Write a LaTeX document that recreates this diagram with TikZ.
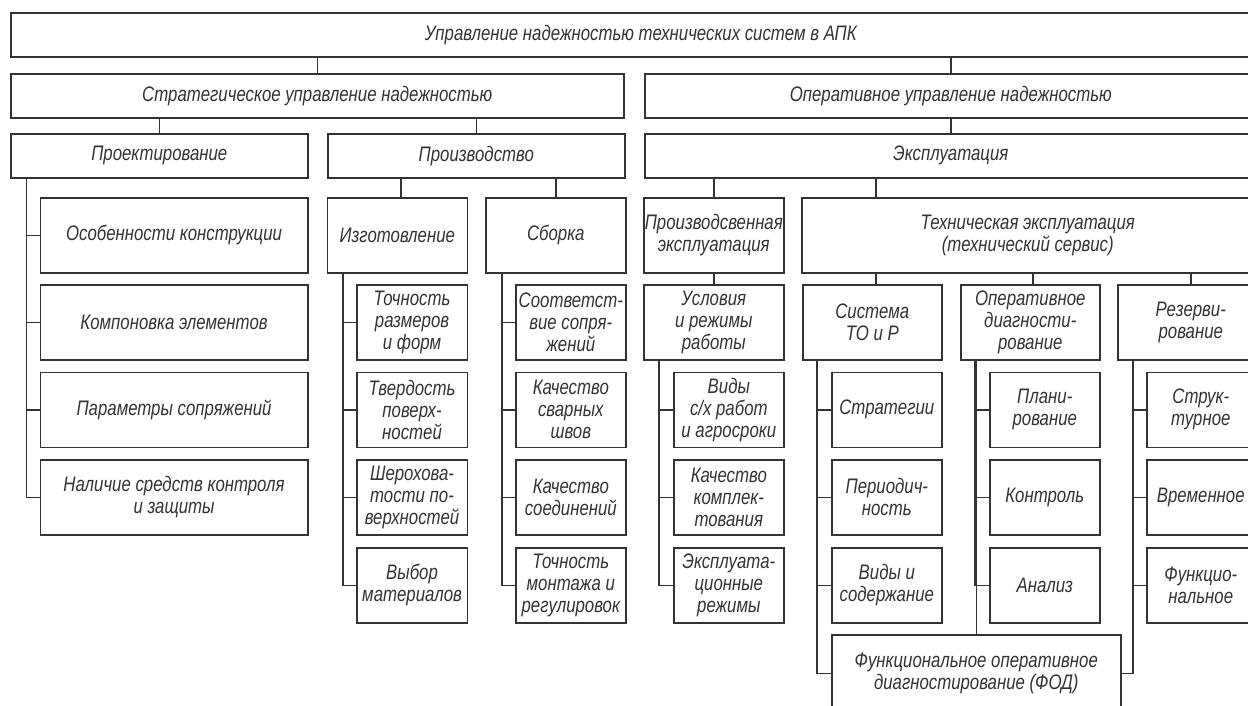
\documentclass[tikz,border=0pt]{standalone}
\usepackage{fontspec}
\newfontfamily\gost[FakeStretch=0.8]{Liberation Sans}
\usetikzlibrary{calc}
\definecolor{ink}{gray}{0.2}
\tikzset{
  box/.style={draw=ink, line width=1.6pt, align=center, inner sep=0pt, text=ink,
    font=\gost\itshape\fontsize{21}{22}\selectfont, anchor=north west},
  wire/.style={draw=ink, line width=1.6pt},
}
\newcommand\mybox[6]{\node[box, minimum width={(#4)-(#2)}, minimum height={(#5)-(#3)}] (#1) at (#2,#3) {#6};}
\begin{document}
\begin{tikzpicture}[x=1pt,y=-1pt]
\useasboundingbox (0,0) rectangle (1248,705);
\clip (0,0) rectangle (1248,705);
% levels 0-2
\mybox{T}{10}{12}{1270}{56}{Управление надежностью технических систем в АПК}
\mybox{S}{10}{73}{623}{117}{Стратегическое управление надежностью}
\mybox{O}{644}{73}{1256}{117}{Оперативное управление надежностью}
\mybox{P}{10}{133}{307}{177}{Проектирование}
\mybox{Pr}{327}{133}{624}{177}{Производство}
\mybox{E}{644}{133}{1256}{177}{Эксплуатация}
% Проектирование
\mybox{K1}{39.5}{197}{307}{272}{Особенности конструкции}
\mybox{K2}{39.5}{284}{307}{359}{Компоновка элементов}
\mybox{K3}{39.5}{371.5}{307}{446.5}{Параметры сопряжений}
\mybox{K4}{39.5}{459}{307}{534}{Наличие средств контроля\\и защиты}
% Производство
\mybox{I}{326.5}{197}{466.5}{272}{Изготовление}
\mybox{I1}{356}{284}{466.5}{359}{Точность\\размеров\\и форм}
\mybox{I2}{356}{371.5}{466.5}{446.5}{Твердость\\поверх-\\ностей}
\mybox{I3}{356}{459}{466.5}{534}{Шерохова-\\тости по-\\верхностей}
\mybox{I4}{356}{547}{466.5}{622}{Выбор\\материалов}
\mybox{Sb}{485}{197}{625}{272}{Сборка}
\mybox{Sb1}{515}{284}{625}{359}{Соответст-\\вие сопря-\\жений}
\mybox{Sb2}{515}{371.5}{625}{446.5}{Качество\\сварных\\швов}
\mybox{Sb3}{515}{459}{625}{534}{Качество\\соединений}
\mybox{Sb4}{515}{547}{625}{622}{Точность\\монтажа и\\регулировок}
% Эксплуатация
\mybox{PE}{643}{197}{783}{272}{Производсвенная\\эксплуатация}
\mybox{TE}{801}{197}{1253}{272}{Техническая эксплуатация\\(технический сервис)}
\mybox{U}{643}{284}{783}{359}{Условия\\и режимы\\работы}
\mybox{U1}{673}{371.5}{783}{446.5}{Виды\\с/х работ\\и агросроки}
\mybox{U2}{673}{459}{783}{534}{Качество\\комплек-\\тования}
\mybox{U3}{673}{547}{783}{622}{Эксплуата-\\ционные\\режимы}
\mybox{Sys}{802}{284}{941}{359}{Система\\ТО и Р}
\mybox{Sys1}{831}{371.5}{941}{446.5}{Стратегии}
\mybox{Sys2}{831}{459}{941}{534}{Периодич-\\ность}
\mybox{Sys3}{831}{547}{941}{622}{Виды и\\содержание}
\mybox{OD}{960}{284}{1099}{359}{Оперативное\\диагности-\\рование}
\mybox{OD1}{989}{371.5}{1099}{446.5}{Плани-\\рование}
\mybox{OD2}{989}{459}{1099}{534}{Контроль}
\mybox{OD3}{989}{547}{1099}{622}{Анализ}
\mybox{R}{1117}{284}{1263}{359}{Резерви-\\рование}
\mybox{R1}{1146}{371.5}{1254}{446.5}{Струк-\\турное}
\mybox{R2}{1146}{459}{1254}{534}{Временное}
\mybox{R3}{1146}{547}{1254}{622}{Функцио-\\нальное}
\mybox{FOD}{831}{634}{1120}{711}{Функциональное оперативное\\диагностирование (ФОД)}
% connector x positions
\coordinate (cPI) at (401,0);
\coordinate (cTE) at (876,0);
\coordinate (cOD) at (1033,0);
% connectors
\draw[wire] (T.south -| S.north) -- (S.north);
\draw[wire] (T.south -| O.north) -- (O.north);
\draw[wire] (S.south -| P.north) -- (P.north);
\draw[wire] (S.south -| Pr.north) -- (Pr.north);
\draw[wire] (O.south) -- (E.north);
\draw[wire] (Pr.south -| cPI) -- (I.north -| cPI);
\draw[wire] (Pr.south -| Sb.north) -- (Sb.north);
\draw[wire] (E.south -| PE.north) -- (PE.north);
\draw[wire] (E.south -| cTE) -- (TE.north -| cTE);
\draw[wire] (PE.south) -- (U.north);
\draw[wire] (TE.south -| cTE) -- (Sys.north -| cTE);
\draw[wire] (TE.south -| cOD) -- (OD.north -| cOD);
\draw[wire] (TE.south -| R.north) -- (R.north);
\foreach \c in {K1,K2,K3,K4} \draw[wire] (\c.west) -| ([xshift=16.5pt]P.south west);
\foreach \c in {I1,I2,I3,I4} \draw[wire] (\c.west) -| ([xshift=16.5pt]I.south west);
\foreach \c in {Sb1,Sb2,Sb3,Sb4} \draw[wire] (\c.west) -| ([xshift=17pt]Sb.south west);
\foreach \c in {U1,U2,U3} \draw[wire] (\c.west) -| ([xshift=16pt]U.south west);
\foreach \c in {Sys1,Sys2,Sys3} \draw[wire] (\c.west) -| ([xshift=15pt]Sys.south west);
\draw[wire] (FOD.west) -| ([xshift=15pt]Sys.south west);
\foreach \c in {OD1,OD2,OD3} \draw[wire] (\c.west) -| ([xshift=15pt]OD.south west);
\draw[wire] (FOD.north) -- (FOD.north |- OD.south);
\foreach \c in {R1,R2,R3} \draw[wire] (\c.west) -| ([xshift=16pt]R.south west);
\draw[wire] (FOD.east) -| ([xshift=16pt]R.south west);
\end{tikzpicture}
\end{document}
